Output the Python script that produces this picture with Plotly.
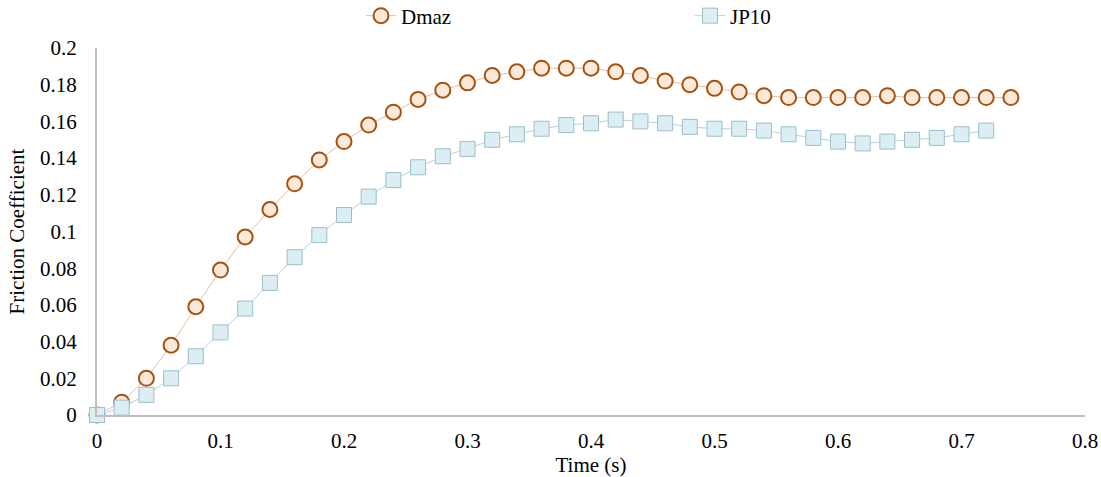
import plotly.graph_objects as go

time_dmaz = [0, 0.02, 0.04, 0.06, 0.08, 0.1, 0.12, 0.14, 0.16, 0.18, 0.2, 0.22, 0.24, 0.26, 0.28,
             0.3, 0.32, 0.34, 0.36, 0.38, 0.4, 0.42, 0.44, 0.46, 0.48, 0.5, 0.52, 0.54, 0.56, 0.58,
             0.6, 0.62, 0.64, 0.66, 0.68, 0.7, 0.72, 0.74]
dmaz = [0, 0.007, 0.020, 0.038, 0.059, 0.079, 0.097, 0.112, 0.126, 0.139, 0.149, 0.158, 0.165, 0.172, 0.177,
        0.181, 0.185, 0.187, 0.189, 0.189, 0.189, 0.187, 0.185, 0.182, 0.180, 0.178, 0.176, 0.174, 0.173, 0.173,
        0.173, 0.173, 0.174, 0.173, 0.173, 0.173, 0.173, 0.173]

time_jp10 = [0, 0.02, 0.04, 0.06, 0.08, 0.1, 0.12, 0.14, 0.16, 0.18, 0.2, 0.22, 0.24, 0.26, 0.28,
             0.3, 0.32, 0.34, 0.36, 0.38, 0.4, 0.42, 0.44, 0.46, 0.48, 0.5, 0.52, 0.54, 0.56, 0.58,
             0.6, 0.62, 0.64, 0.66, 0.68, 0.7, 0.72]
jp10 = [0, 0.004, 0.011, 0.020, 0.032, 0.045, 0.058, 0.072, 0.086, 0.098, 0.109, 0.119, 0.128, 0.135, 0.141,
        0.145, 0.150, 0.153, 0.156, 0.158, 0.159, 0.161, 0.160, 0.159, 0.157, 0.156, 0.156, 0.155, 0.153, 0.151,
        0.149, 0.148, 0.149, 0.150, 0.151, 0.153, 0.155]

x_ticks = [0, 0.1, 0.2, 0.3, 0.4, 0.5, 0.6, 0.7, 0.8]
y_ticks = [0, 0.02, 0.04, 0.06, 0.08, 0.1, 0.12, 0.14, 0.16, 0.18, 0.2]

FONT = "Liberation Serif"
FS = 21

fig = go.Figure()
fig.add_trace(go.Scatter(
    x=time_dmaz, y=dmaz, name="Dmaz", mode="lines+markers",
    line=dict(color="#E6BFA6", width=1),
    marker=dict(symbol="circle", size=15, color="#FDE9D9",
                line=dict(color="#A5520F", width=2)),
    cliponaxis=False, legend="legend",
))
fig.add_trace(go.Scatter(
    x=time_jp10, y=jp10, name="JP10", mode="lines+markers",
    line=dict(color="#B8D0D8", width=1),
    marker=dict(symbol="square", size=15, color="#DAEEF3",
                line=dict(color="#9DBFC9", width=1)),
    cliponaxis=False, legend="legend2",
))

leg_common = dict(orientation="h", yref="container", y=1 - 16 / 477, yanchor="middle", xref="container",
                  xanchor="left", font=dict(family=FONT, size=FS), bgcolor="rgba(0,0,0,0)")

fig.update_layout(
    width=1101, height=477,
    margin=dict(l=97, r=16, t=48, b=62),
    paper_bgcolor="white", plot_bgcolor="white",
    font=dict(family=FONT, size=FS, color="black"),
    legend=dict(x=361 / 1101, **leg_common),
    legend2=dict(x=690 / 1101, **leg_common),
    showlegend=True,
)
fig.update_xaxes(
    range=[0, 0.8], tickvals=x_ticks, ticktext=[f"{v:g}" for v in x_ticks],
    showgrid=False, zeroline=False, showline=True, linecolor="#BFBFBF", linewidth=2,
    ticks="", ticklabelstandoff=6, automargin=False,
    title=dict(text="Time (s)", font=dict(family=FONT, size=FS), standoff=1),
)
fig.update_yaxes(
    range=[0, 0.2], tickvals=y_ticks, ticktext=[f"{v:g}" for v in y_ticks],
    showgrid=False, zeroline=False, showline=True, linecolor="#BFBFBF", linewidth=2,
    ticks="", ticklabelstandoff=14, automargin=False,
    title=dict(text="Friction Coefficient", font=dict(family=FONT, size=FS), standoff=10),
)

fig.write_html("out.html")
